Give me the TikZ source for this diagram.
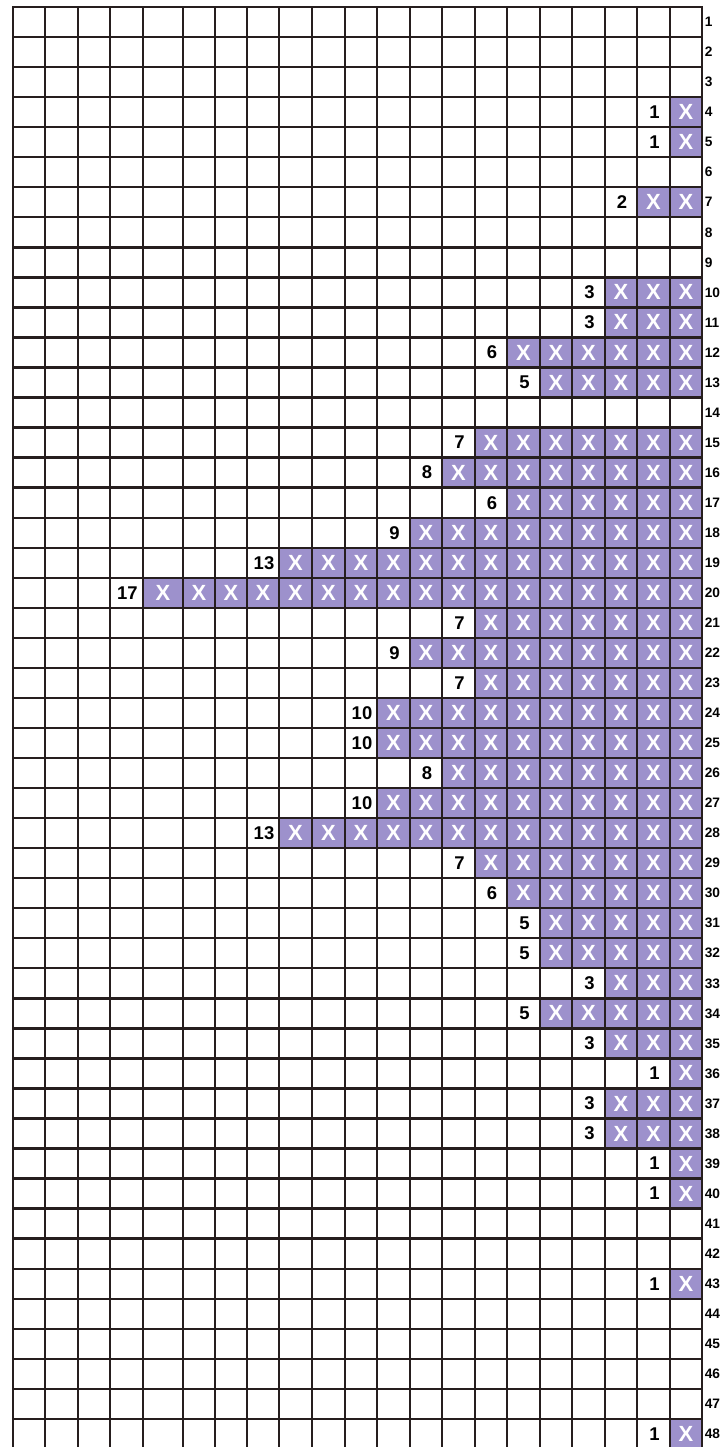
\documentclass[tikz,border=0pt]{standalone}
\usepackage{fontspec}
\setmainfont{Liberation Sans}
\usepackage{xcolor}

\definecolor{celula}{RGB}{157,145,204}
\definecolor{grade}{RGB}{38,30,30}

% posições das linhas verticais da grade (px)
\newcommand{\gradex}{{13,45,78,110,143,183,215,247,279,312,345,377,410,442,475,507,540,572,605,637,670,702}}
% linha/número de células marcadas
\newcommand{\linhas}{4/1, 5/1, 7/2, 10/3, 11/3, 12/6, 13/5, 15/7, 16/8, 17/6, 18/9, 19/13, 20/17,
  21/7, 22/9, 23/7, 24/10, 25/10, 26/8, 27/10, 28/13, 29/7, 30/6, 31/5, 32/5, 33/3, 34/5,
  35/3, 36/1, 37/3, 38/3, 39/1, 40/1, 43/1, 48/1}

\tikzset{
  traco/.style={draw=grade, line width=1.35pt},
  marca/.style={text=white, inner sep=0pt, font=\fontsize{12.5}{14}\selectfont\bfseries},
  contagem/.style={inner sep=0pt, font=\fontsize{10.5}{12}\selectfont\bfseries},
  rotulo/.style={inner sep=0pt, anchor=west, font=\fontsize{7.8}{9}\selectfont\bfseries}
}

\begin{document}
\begin{tikzpicture}[x=0.02cm, y=-0.02cm]
    \useasboundingbox (0,0) rectangle (721,1447);
    % Células preenchidas
    \foreach \r/\n in \linhas
    {
      \pgfmathsetmacro{\ya}{7+(\r-1)*30.04}
      \pgfmathsetmacro{\yb}{7+\r*30.04}
      \pgfmathtruncatemacro{\primeira}{22-\n}
      \foreach \c in {\primeira,...,21}
      {
        \pgfmathsetmacro{\xa}{\gradex[\c-1]}
        \pgfmathsetmacro{\xb}{\gradex[\c]}
        \fill[celula] (\xa,\ya) rectangle (\xb,\yb);
      }
    }
    % Grade
    \foreach \x in {13,45,78,110,143,183,215,247,279,312,345,377,410,442,475,507,540,572,605,637,670,702}
      \draw[traco] (\x,7) -- (\x,1450);
    \foreach \r in {0,...,48}
      \draw[traco] (12.4,{7+\r*30.04}) -- (702.6,{7+\r*30.04});
    % Marcas X e contagens
    \foreach \r/\n in \linhas
    {
      \pgfmathsetmacro{\ym}{7+(\r-0.5)*30.04}
      \pgfmathtruncatemacro{\primeira}{22-\n}
      \foreach \c in {\primeira,...,21}
      {
        \pgfmathsetmacro{\xa}{\gradex[\c-1]}
        \pgfmathsetmacro{\xb}{\gradex[\c]}
        \node[marca] (x\r-\c) at ({(\xa+\xb)/2},\ym) {X};
      }
      \pgfmathsetmacro{\xa}{\gradex[\primeira-2]}
      \pgfmathsetmacro{\xb}{\gradex[\primeira-1]}
      \node[contagem] (n\r) at ({(\xa+\xb)/2+1},\ym) {\n};
    }
    % Números das linhas
    \foreach \r in {1,...,48}
      \node[rotulo] (lin\r) at (704.5,{7+(\r-0.5)*30.04}) {\r};
\end{tikzpicture}
\end{document}
